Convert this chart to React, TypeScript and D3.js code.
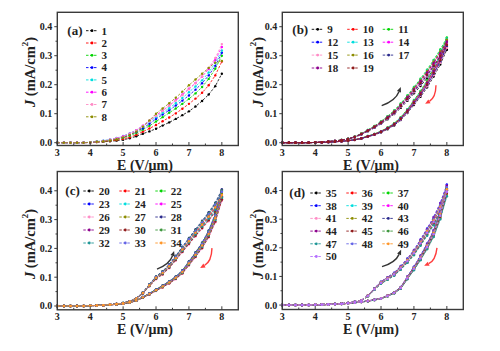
import React from 'react';
import * as d3 from 'd3';

// ---------- data ----------
const E_GRID = [3.0, 3.2, 3.4, 3.6, 3.8, 4.0, 4.2, 4.4, 4.6, 4.8, 5.0, 5.2, 5.4, 5.6, 5.8, 6.0, 6.2, 6.4, 6.6, 6.8, 7.0, 7.2, 7.4, 7.6, 7.8, 8.0];
const X_TICKS = [3, 4, 5, 6, 7, 8];
const X_MINOR = [3.5, 4.5, 5.5, 6.5, 7.5];
const Y_TICKS = [0.0, 0.1, 0.2, 0.3, 0.4];
const Y_MINOR = [0.05, 0.15, 0.25, 0.35];

const PALETTE = ['#000000', '#ff0000', '#00d400', '#0000ff', '#00dede', '#ff00ff', '#ff8cc6', '#8c8c00',
  '#2a2a8c', '#8c008c', '#901c1c', '#3c963c', '#1e9696', '#6464e6', '#ff9628', '#b46eff'];

// Panel (a): one curve per sample
const A_LABELS = ['1', '2', '3', '4', '5', '6', '7', '8'];
const A_J1 = [0, 0, 0, 0, 0, 0.001, 0.002, 0.003, 0.005, 0.007, 0.010, 0.015, 0.022, 0.031, 0.039, 0.048, 0.059, 0.070, 0.082, 0.095, 0.108, 0.125, 0.144, 0.166, 0.195, 0.238];
const A_J2 = [0, 0, 0, 0, 0, 0.001, 0.002, 0.004, 0.006, 0.009, 0.013, 0.019, 0.027, 0.038, 0.049, 0.061, 0.074, 0.087, 0.101, 0.117, 0.134, 0.152, 0.172, 0.198, 0.232, 0.280];
const A_J3 = [0, 0, 0, 0, 0, 0.001, 0.003, 0.005, 0.008, 0.012, 0.017, 0.024, 0.033, 0.045, 0.058, 0.073, 0.088, 0.103, 0.118, 0.134, 0.151, 0.170, 0.192, 0.220, 0.255, 0.300];
const A_J4 = [0, 0, 0, 0, 0, 0.001, 0.003, 0.006, 0.009, 0.013, 0.019, 0.027, 0.037, 0.050, 0.065, 0.082, 0.097, 0.112, 0.128, 0.145, 0.163, 0.183, 0.205, 0.232, 0.265, 0.310];
const A_J5 = [0, 0, 0, 0, 0, 0.002, 0.004, 0.007, 0.011, 0.016, 0.023, 0.032, 0.043, 0.057, 0.072, 0.088, 0.103, 0.119, 0.136, 0.154, 0.174, 0.194, 0.215, 0.242, 0.275, 0.318];
const A_J6 = [0, 0, 0, 0, 0, 0.001, 0.003, 0.006, 0.010, 0.015, 0.022, 0.031, 0.043, 0.059, 0.076, 0.094, 0.111, 0.128, 0.147, 0.166, 0.186, 0.206, 0.228, 0.254, 0.285, 0.330];
const A_J7 = [0, 0, 0, 0, 0, 0.001, 0.003, 0.006, 0.010, 0.015, 0.021, 0.030, 0.042, 0.057, 0.074, 0.092, 0.109, 0.127, 0.145, 0.164, 0.184, 0.205, 0.229, 0.258, 0.292, 0.340];
const A_J8 = [0, 0, 0, 0, 0, 0.001, 0.003, 0.005, 0.008, 0.012, 0.018, 0.027, 0.038, 0.055, 0.077, 0.100, 0.118, 0.136, 0.155, 0.176, 0.198, 0.218, 0.238, 0.258, 0.276, 0.282];
const A_SERIES = [A_J1, A_J2, A_J3, A_J4, A_J5, A_J6, A_J7, A_J8];

// Panel (b): forward (up) and backward (down) sweeps, per-sample factor
const B_LABELS = ['9', '10', '11', '12', '13', '14', '15', '16', '17', '18', '19'];
const B_UP = [0, 0, 0, 0, 0, 0.001, 0.002, 0.004, 0.006, 0.009, 0.013, 0.020, 0.030, 0.042, 0.055, 0.070, 0.087, 0.106, 0.129, 0.155, 0.183, 0.210, 0.240, 0.272, 0.306, 0.345];
const B_DOWN = [0, 0, 0, 0, 0, 0.001, 0.001, 0.002, 0.003, 0.005, 0.007, 0.010, 0.015, 0.022, 0.029, 0.038, 0.050, 0.064, 0.084, 0.110, 0.140, 0.170, 0.205, 0.245, 0.290, 0.345];
const B_SCALE = [0.93, 1.02, 1.05, 0.96, 1.04, 1.0, 0.95, 1.03, 0.97, 1.01, 0.98];

// Panel (c)
const C_LABELS = ['20', '21', '22', '23', '24', '25', '26', '27', '28', '29', '30', '31', '32', '33', '34'];
const C_UP = [0, 0, 0, 0, 0, 0.001, 0.002, 0.003, 0.005, 0.007, 0.010, 0.016, 0.026, 0.045, 0.072, 0.098, 0.115, 0.138, 0.166, 0.196, 0.225, 0.254, 0.282, 0.310, 0.342, 0.385];
const C_DOWN = [0, 0, 0, 0, 0, 0.001, 0.002, 0.003, 0.004, 0.006, 0.008, 0.012, 0.019, 0.030, 0.042, 0.055, 0.068, 0.082, 0.098, 0.118, 0.148, 0.178, 0.210, 0.250, 0.305, 0.385];
const C_SCALE = [1.0, 0.96, 1.03, 1.04, 0.97, 1.01, 0.95, 1.02, 1.05, 0.99, 0.96, 1.04, 0.98, 1.03, 1.0];

// Panel (d)
const D_LABELS = ['35', '36', '37', '38', '39', '40', '41', '42', '43', '44', '45', '46', '47', '48', '49', '50'];
const D_UP = [0, 0, 0, 0, 0, 0.001, 0.002, 0.003, 0.004, 0.005, 0.007, 0.011, 0.016, 0.032, 0.056, 0.078, 0.093, 0.108, 0.130, 0.155, 0.183, 0.218, 0.255, 0.293, 0.340, 0.400];
const D_DOWN = [0, 0, 0, 0, 0, 0.001, 0.001, 0.002, 0.003, 0.004, 0.006, 0.008, 0.011, 0.014, 0.018, 0.023, 0.032, 0.043, 0.060, 0.095, 0.128, 0.165, 0.205, 0.250, 0.315, 0.400];
const D_SCALE = [1.0, 0.96, 1.03, 1.05, 0.96, 1.01, 1.04, 0.97, 1.0, 1.04, 0.98, 1.02, 0.95, 1.03, 1.01, 0.99];

// sweep-direction arrows: [E0, J0, E1, J1]
const B_ARROW_UP = [6.02, 0.128, 6.6, 0.192];
const B_ARROW_DOWN = [7.67, 0.198, 7.34, 0.134];
const C_ARROW_UP = [6.03, 0.128, 6.55, 0.191];
const C_ARROW_DOWN = [7.7, 0.201, 7.34, 0.132];
const D_ARROW_UP = [6.03, 0.134, 6.61, 0.193];
const D_ARROW_DOWN = [7.7, 0.2, 7.31, 0.137];

// ---------- layout ----------
const FONT = '"Liberation Serif", "Times New Roman", serif';

type Pt = [number, number];
type Series = { label: string; color: string; pts: Pt[] };
type Arrow = { v: number[]; color: string; bend: number };
type Cfg = {
  letter: string; left: number; right: number; top: number; bottom: number;
  yDomain: [number, number]; series: Series[]; arrows: Arrow[];
  leg: { lineX: number; y0: number; rowH: number; colW: number; cols: number; letterX: number };
  yTitle: [number, number]; xTitle: [number, number];
};

const single = (labels: string[], vals: number[][]): Series[] =>
  labels.map((l, i) => ({ label: l, color: PALETTE[i], pts: E_GRID.map((e, k) => [e, vals[i][k]] as Pt) }));

const loops = (labels: string[], up: number[], down: number[], sc: number[]): Series[] =>
  labels.map((l, i) => {
    const f = E_GRID.map((e, k) => [e, up[k] * sc[i]] as Pt);
    const b = E_GRID.map((e, k) => [e, down[k] * sc[i]] as Pt).reverse();
    return { label: l, color: PALETTE[i], pts: f.concat(b) };
  });

const PANELS: Cfg[] = [
  {
    letter: '(a)', left: 57.3, right: 238.3, top: 12.3, bottom: 145.5, yDomain: [-0.0097, 0.4497],
    series: single(A_LABELS, A_SERIES), arrows: [],
    leg: { lineX: 28.7, y0: 18.4, rowH: 12.3, colW: 0, cols: 1, letterX: 10 },
    yTitle: [30, 72], xTitle: [145, 169.5],
  },
  {
    letter: '(b)', left: 282.3, right: 463.3, top: 12.3, bottom: 145.5, yDomain: [-0.0097, 0.4497],
    series: loops(B_LABELS, B_UP, B_DOWN, B_SCALE),
    arrows: [{ v: B_ARROW_UP, color: '#333333', bend: 0.23 }, { v: B_ARROW_DOWN, color: '#ff3c3c', bend: -0.28 }],
    leg: { lineX: 29.4, y0: 17, rowH: 12.9, colW: 35.5, cols: 3, letterX: 10 },
    yTitle: [258, 72], xTitle: [371, 169.5],
  },
  {
    letter: '(c)', left: 57.3, right: 238.3, top: 171.5, bottom: 309.8, yDomain: [-0.0132, 0.467],
    series: loops(C_LABELS, C_UP, C_DOWN, C_SCALE),
    arrows: [{ v: C_ARROW_UP, color: '#333333', bend: 0.23 }, { v: C_ARROW_DOWN, color: '#ff3c3c', bend: -0.28 }],
    leg: { lineX: 26, y0: 19.5, rowH: 13, colW: 36, cols: 3, letterX: 8 },
    yTitle: [30, 244], xTitle: [145, 334],
  },
  {
    letter: '(d)', left: 282.3, right: 463.3, top: 171.5, bottom: 309.5, yDomain: [-0.0155, 0.4665],
    series: loops(D_LABELS, D_UP, D_DOWN, D_SCALE),
    arrows: [{ v: D_ARROW_UP, color: '#333333', bend: 0.23 }, { v: D_ARROW_DOWN, color: '#ff3c3c', bend: -0.28 }],
    leg: { lineX: 28, y0: 21.5, rowH: 12.7, colW: 36, cols: 3, letterX: 7 },
    yTitle: [258, 244], xTitle: [371, 333.5],
  },
];

function Panel({ cfg }: { cfg: Cfg }) {
  const x = d3.scaleLinear().domain([3, 8.5]).range([cfg.left, cfg.right]);
  const y = d3.scaleLinear().domain(cfg.yDomain).range([cfg.bottom, cfg.top]);
  const line = d3.line<Pt>().x((d) => x(d[0])).y((d) => y(d[1]));
  const fmt = d3.format('.1f');
  const L = cfg.leg;

  return (
    <g>
      {/* series */}
      {cfg.series.map((s, i) => (
        <g key={i}>
          <path d={line(s.pts) || ''} fill="none" stroke={s.color} strokeWidth={0.8} strokeDasharray="2.5,1.5" />
          {s.pts.map((p, k) => (
            <circle key={k} cx={x(p[0])} cy={y(p[1])} r={1.2} fill={s.color} />
          ))}
        </g>
      ))}

      {/* arrows */}
      {cfg.arrows.map((a, i) => {
        const x0 = x(a.v[0]), y0 = y(a.v[1]), x1 = x(a.v[2]), y1 = y(a.v[3]);
        const dx = x1 - x0, dy = y1 - y0;
        const cx = (x0 + x1) / 2 + (-dy) * a.bend;
        const cy = (y0 + y1) / 2 + dx * a.bend;
        const tx = x1 - cx, ty = y1 - cy;
        const tl = Math.hypot(tx, ty);
        const ux = tx / tl, uy = ty / tl;
        const hl = 5, hw = 2.2;
        const bx = x1 - ux * hl, by = y1 - uy * hl;
        const head = `M${x1},${y1}L${bx - uy * hw},${by + ux * hw}L${bx + uy * hw},${by - ux * hw}Z`;
        return (
          <g key={i}>
            <path d={`M${x0},${y0}Q${cx},${cy} ${bx},${by}`} fill="none" stroke={a.color} strokeWidth={1.4} />
            <path d={head} fill={a.color} />
          </g>
        );
      })}

      {/* frame */}
      <rect x={cfg.left} y={cfg.top} width={cfg.right - cfg.left} height={cfg.bottom - cfg.top}
        fill="none" stroke="#3a3a3a" strokeWidth={1.4} />

      {/* x ticks */}
      {X_TICKS.map((t) => (
        <g key={t}>
          <line x1={x(t)} x2={x(t)} y1={cfg.bottom} y2={cfg.bottom - 3.5} stroke="#3a3a3a" strokeWidth={1} />
          <text x={x(t)} y={cfg.bottom + 10.5} textAnchor="middle" fontFamily={FONT} fontWeight="bold" fontSize={10} fill="#222">{t}</text>
        </g>
      ))}
      {X_MINOR.map((t) => (
        <line key={t} x1={x(t)} x2={x(t)} y1={cfg.bottom} y2={cfg.bottom - 2} stroke="#3a3a3a" strokeWidth={1} />
      ))}
      {/* y ticks */}
      {Y_TICKS.map((t) => (
        <g key={t}>
          <line x1={cfg.left} x2={cfg.left - 3} y1={y(t)} y2={y(t)} stroke="#3a3a3a" strokeWidth={1} />
          <text x={cfg.left - 5} y={y(t) + 3.5} textAnchor="end" fontFamily={FONT} fontWeight="bold" fontSize={10} fill="#222">{fmt(t)}</text>
        </g>
      ))}
      {Y_MINOR.map((t) => (
        <line key={t} x1={cfg.left} x2={cfg.left - 1.8} y1={y(t)} y2={y(t)} stroke="#3a3a3a" strokeWidth={1} />
      ))}

      {/* axis titles */}
      <text x={cfg.xTitle[0]} y={cfg.xTitle[1]} textAnchor="middle" fontFamily={FONT} fontWeight="bold" fontSize={14} fill="#222">
        E (V/μm)
      </text>
      <text transform={`translate(${cfg.yTitle[0]},${cfg.yTitle[1]}) rotate(-90)`} textAnchor="middle" dominantBaseline="central"
        fontFamily={FONT} fontWeight="bold" fontSize={14.5} fill="#222">
        <tspan fontStyle="italic">J</tspan>
        <tspan> (mA/cm</tspan>
        <tspan dy={-5} fontSize={9}>2</tspan>
        <tspan dy={5}>)</tspan>
      </text>

      {/* legend */}
      <text x={cfg.left + L.letterX} y={cfg.top + L.y0 + 4.3} fontFamily={FONT} fontWeight="bold" fontSize={13} fill="#222">{cfg.letter}</text>
      {cfg.series.map((s, i) => {
        const col = i % L.cols, row = Math.floor(i / L.cols);
        const lx = cfg.left + L.lineX + col * L.colW;
        const ly = cfg.top + L.y0 + row * L.rowH;
        return (
          <g key={i}>
            <line x1={lx} x2={lx + 12} y1={ly} y2={ly} stroke={s.color} strokeWidth={0.9} strokeDasharray="2.5,1.5" />
            <circle cx={lx + 6} cy={ly} r={1.4} fill={s.color} />
            <text x={lx + 15.5} y={ly + 3.8} fontFamily={FONT} fontWeight="bold" fontSize={11} fill="#222">{s.label}</text>
          </g>
        );
      })}
    </g>
  );
}

export default function App() {
  return (
    <svg width={500} height={351} viewBox="0 0 500 351" style={{ position: 'absolute', left: 0, top: 0, background: '#fff' }}>
      <rect x={0} y={0} width={500} height={351} fill="#fff" />
      {PANELS.map((p, i) => <Panel key={i} cfg={p} />)}
    </svg>
  );
}
